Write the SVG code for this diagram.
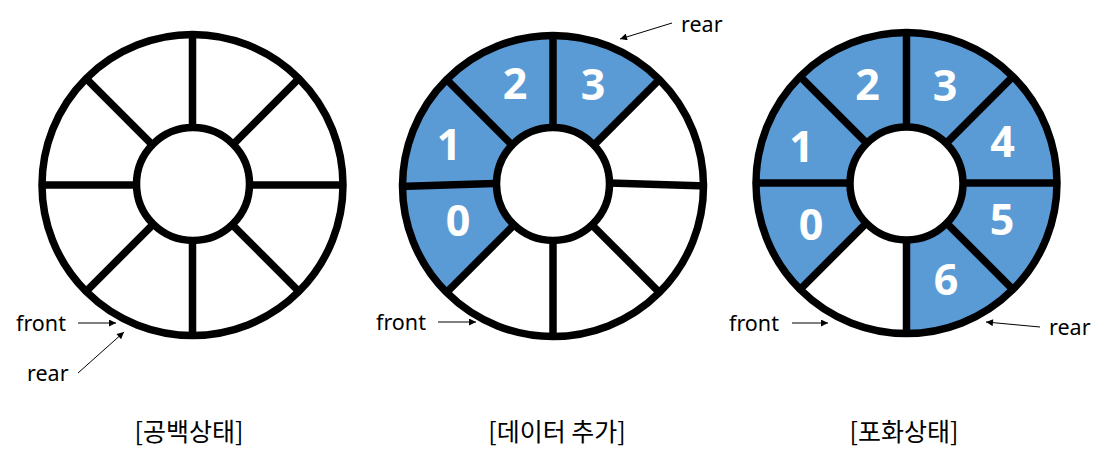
<svg xmlns="http://www.w3.org/2000/svg" width="1105" height="459" viewBox="0 0 1105 459">
  <defs>
    <style>
      .ring { fill: none; stroke: #000; stroke-width: 7.5; }
      .hub { fill: #fff; stroke: #000; stroke-width: 7.5; }
      .spoke { stroke: #000; stroke-width: 7.5; stroke-linecap: butt; }
      .fill { fill: #5B9BD5; stroke: none; }
      .num { font-family: "Noto Sans", "Open Sans", sans-serif; font-weight: bold; font-size: 43px; fill: #fff; text-anchor: middle; }
      .lbl { font-family: "Noto Sans", "Open Sans", sans-serif; font-size: 21.5px; fill: #000; }
      .cap { font-family: "Noto Sans CJK KR", "Noto Sans", sans-serif; font-size: 25px; fill: #000; text-anchor: middle; }
      .arrow { stroke: #000; stroke-width: 1; fill: none; marker-end: url(#ah); }
    </style>
    <marker id="ah" viewBox="0 0 10 10" refX="10" refY="5" markerWidth="8" markerHeight="7" markerUnits="userSpaceOnUse" orient="auto">
      <path d="M0,0 L10,5 L0,10 Z" fill="#000"/>
    </marker>
  </defs>
  <rect width="1105" height="459" fill="#fff"/>

  <!-- Circle 1: empty -->
  <g id="queue-empty" transform="translate(192.5,185)">
    <line class="spoke" x1="0" y1="0" x2="0" y2="-151"/>
    <line class="spoke" x1="0" y1="0" x2="0" y2="151"/>
    <line class="spoke" x1="0" y1="0" x2="-151" y2="0"/>
    <line class="spoke" x1="0" y1="0" x2="151" y2="0"/>
    <line class="spoke" x1="0" y1="0" x2="-106.8" y2="-106.8"/>
    <line class="spoke" x1="0" y1="0" x2="106.8" y2="-106.8"/>
    <line class="spoke" x1="0" y1="0" x2="-106.8" y2="106.8"/>
    <line class="spoke" x1="0" y1="0" x2="106.8" y2="106.8"/>
    <circle class="ring" cx="0" cy="0" r="150.5"/>
    <circle class="hub" cx="0.5" cy="-1" r="56.5"/>
  </g>

  <!-- Circle 2: data added -->
  <g id="queue-added" transform="translate(553,186)">
    <path class="fill" d="M0,0 L-106.8,106.8 A151,151 0 1,1 106.8,-106.8 Z"/>
    <line class="spoke" x1="0" y1="0" x2="0" y2="-151"/>
    <line class="spoke" x1="0" y1="0" x2="0" y2="151"/>
    <line class="spoke" x1="-154" y1="0.5" x2="-40" y2="-3"/>
    <line class="spoke" x1="40" y1="-3.5" x2="154" y2="0"/>
    <line class="spoke" x1="0" y1="0" x2="-106.8" y2="-106.8"/>
    <line class="spoke" x1="0" y1="0" x2="106.8" y2="-106.8"/>
    <line class="spoke" x1="0" y1="0" x2="-106.8" y2="106.8"/>
    <line class="spoke" x1="0" y1="0" x2="106.8" y2="106.8"/>
    <circle class="ring" cx="0" cy="0" r="150.5"/>
    <circle class="hub" cx="0" cy="-2" r="56.5"/>
    <text class="num" x="-38" y="-87">2</text>
    <text class="num" x="40" y="-86">3</text>
    <text class="num" x="-104" y="-26">1</text>
    <text class="num" x="-95" y="50">0</text>
  </g>

  <!-- Circle 3: full -->
  <g id="queue-full" transform="translate(906.5,183)">
    <path class="fill" d="M0,0 L-106.8,106.8 A151,151 0 1,1 0,151 Z"/>
    <line class="spoke" x1="0" y1="0" x2="0" y2="-151"/>
    <line class="spoke" x1="0" y1="0" x2="0" y2="151"/>
    <line class="spoke" x1="0" y1="0" x2="-151" y2="0"/>
    <line class="spoke" x1="0" y1="0" x2="151" y2="0"/>
    <line class="spoke" x1="0" y1="0" x2="-106.8" y2="-106.8"/>
    <line class="spoke" x1="0" y1="0" x2="106.8" y2="-106.8"/>
    <line class="spoke" x1="0" y1="0" x2="-106.8" y2="106.8"/>
    <line class="spoke" x1="0" y1="0" x2="106.8" y2="106.8"/>
    <circle class="ring" cx="0" cy="0" r="150.5"/>
    <circle class="hub" cx="0" cy="0.5" r="56.5"/>
    <text class="num" x="-39" y="-83">2</text>
    <text class="num" x="38.5" y="-82">3</text>
    <text class="num" x="-105" y="-21">1</text>
    <text class="num" x="96" y="-26">4</text>
    <text class="num" x="-95.5" y="57">0</text>
    <text class="num" x="95.5" y="52">5</text>
    <text class="num" x="39.5" y="112">6</text>
  </g>

  <!-- Pointer labels -->
  <g id="labels">
    <text class="lbl" x="16" y="331">front</text>
    <text class="lbl" x="27" y="381">rear</text>
    <text class="lbl" x="376" y="330">front</text>
    <text class="lbl" x="681" y="32">rear</text>
    <text class="lbl" x="729" y="331">front</text>
    <text class="lbl" x="1049" y="335">rear</text>
  </g>

  <!-- Connectors -->
  <g id="connectors">
    <line class="arrow" x1="78" y1="323" x2="116" y2="323"/>
    <line class="arrow" x1="78" y1="373" x2="124" y2="332"/>
    <line class="arrow" x1="438" y1="322" x2="476" y2="322"/>
    <line class="arrow" x1="672" y1="23" x2="620" y2="39"/>
    <line class="arrow" x1="792" y1="323" x2="828" y2="323"/>
    <line class="arrow" x1="1040" y1="327" x2="986" y2="322"/>
  </g>

  <!-- Captions -->
  <g id="captions">
    <text class="cap" x="189" y="441">[공백상태]</text>
    <text class="cap" x="557" y="441">[데이터 추가]</text>
    <text class="cap" x="904" y="441">[포화상태]</text>
  </g>
</svg>
